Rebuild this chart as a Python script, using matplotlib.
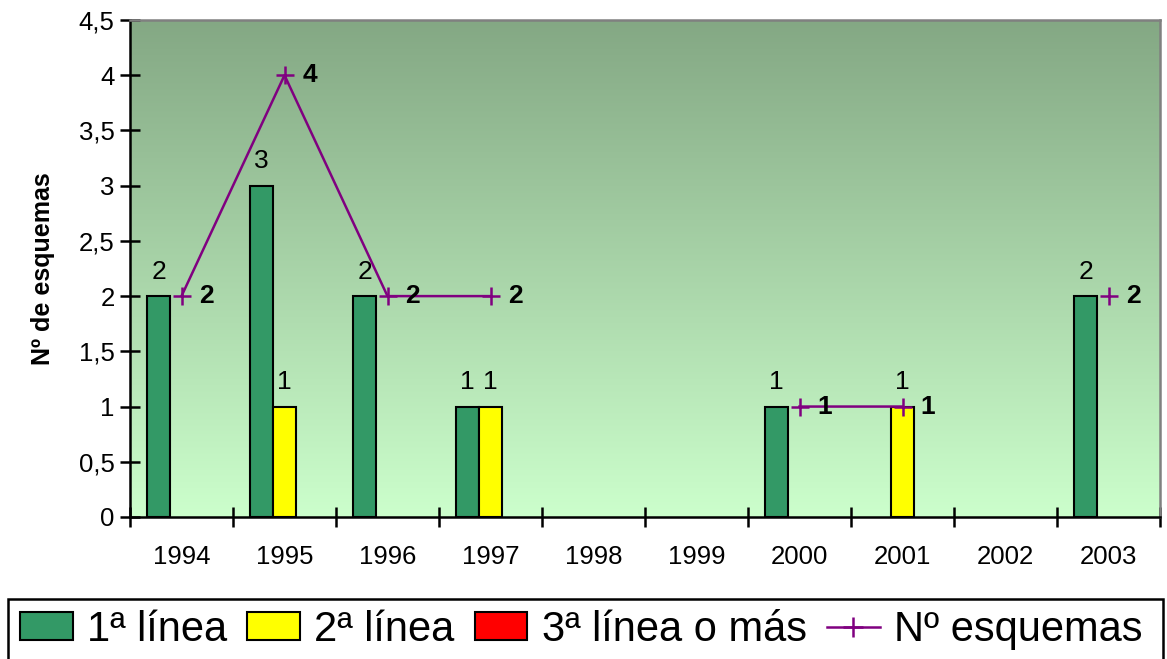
import numpy as np
import matplotlib
matplotlib.use("Agg")
import matplotlib.pyplot as plt
from matplotlib.ticker import FixedLocator, FuncFormatter
from matplotlib.patches import Patch, Rectangle
from matplotlib.lines import Line2D

plt.rcParams['font.family'] = ['Liberation Sans', 'DejaVu Sans']

# data
years = ["1994", "1995", "1996", "1997", "1998", "1999", "2000", "2001", "2002", "2003"]
linea1 = [2, 3, 2, 1, 0, 0, 1, 0, 0, 2]
linea2 = [0, 1, 0, 1, 0, 0, 0, 1, 0, 0]
linea3 = [0, 0, 0, 0, 0, 0, 0, 0, 0, 0]
n_esquemas = [2, 4, 2, 2, np.nan, np.nan, 1, 1, np.nan, 2]

GREEN, YELLOW, RED, PURPLE = "#339966", "#FFFF00", "#FF0000", "#800080"

fig = plt.figure(figsize=(11.67, 6.59), dpi=100)
ax = fig.add_axes([130 / 1167, 1 - 517 / 659, 1030 / 1167, 497 / 659])

# gradient background
top = np.array([0x84, 0xA8, 0x84]) / 255
bot = np.array([0xCC, 0xFF, 0xCC]) / 255
t = np.linspace(0, 1, 256)[:, None]
grad = (top * (1 - t) + bot * t)[:, None, :]
ax.imshow(grad, extent=[0, 1, 0, 1], transform=ax.transAxes, aspect="auto", zorder=0)

x = np.arange(len(years))
w = 0.223
series = [(linea1, GREEN, "1ª línea", -w), (linea2, YELLOW, "2ª línea", 0),
          (linea3, RED, "3ª línea o más", w)]
handles = []
for vals, col, lab, off in series:
    v = np.array(vals, dtype=float)
    keep = v > 0
    ax.bar((x + off)[keep], v[keep], width=w, color=col, edgecolor="black",
           linewidth=1.5, zorder=2)
    for xi, vi in zip((x + off)[keep], v[keep]):
        ax.annotate(f"{int(vi)}", (xi, vi), xytext=(0, 9), textcoords="offset points",
                    ha="center", va="bottom", fontsize=19, zorder=5)
    handles.append(Patch(facecolor=col, edgecolor="black", linewidth=1.5, label=lab))

ax.plot(x, n_esquemas, color=PURPLE, lw=1.8, marker="+", ms=13, mew=1.8, zorder=3)
for xi, v in zip(x, n_esquemas):
    if not np.isnan(v):
        ax.annotate(f"{int(v)}", (xi, v), xytext=(13, 0), textcoords="offset points",
                    ha="left", va="center", fontsize=19, fontweight="bold", zorder=5)
handles.append(Line2D([], [], color=PURPLE, lw=1.8, marker="+", ms=14, mew=1.8,
                      label="Nº esquemas"))

ax.set_xlim(-0.5, len(years) - 0.5)
ax.set_ylim(0, 4.5)
ax.yaxis.set_major_locator(FixedLocator(np.arange(0, 4.51, 0.5)))
ax.yaxis.set_major_formatter(FuncFormatter(lambda v, p: f"{v:g}".replace(".", ",")))
ax.xaxis.set_major_locator(FixedLocator(np.arange(-0.5, len(years), 1.0)))
ax.xaxis.set_major_formatter(FuncFormatter(lambda v, p: ""))
ax.set_xticks(x, minor=True)
ax.set_xticklabels(years, minor=True)
ax.tick_params(axis="x", which="minor", length=0, pad=20, labelsize=18.5)
ax.tick_params(axis="x", which="major", direction="inout", length=14, width=1.8)
ax.tick_params(axis="y", direction="inout", length=14, width=1.8, labelsize=18.5, pad=4)
ax.set_ylabel("Nº de esquemas", fontsize=18, fontweight="bold", labelpad=17)

for s in ("left", "bottom"):
    ax.spines[s].set_color("black")
    ax.spines[s].set_linewidth(1.8)
for s in ("top", "right"):
    ax.spines[s].set_color("#808080")
    ax.spines[s].set_linewidth(1.8)

# legend box (runs past the bottom edge like the original)
fig.patches.append(Rectangle((8 / 1167, -0.02), 1155 / 1167, 0.02 + 60 / 659,
                             transform=fig.transFigure, facecolor="white",
                             edgecolor="black", linewidth=1.8, zorder=1))
leg = fig.legend(handles=handles, loc="center left",
                 bbox_to_anchor=(20 / 1167, 1 - 630 / 659), ncol=4, fontsize=30,
                 frameon=False, handlelength=1.27, handleheight=0.65,
                 handletextpad=0.34, borderaxespad=0, borderpad=0, columnspacing=0.48)

fig.savefig("out.png", dpi=100)
